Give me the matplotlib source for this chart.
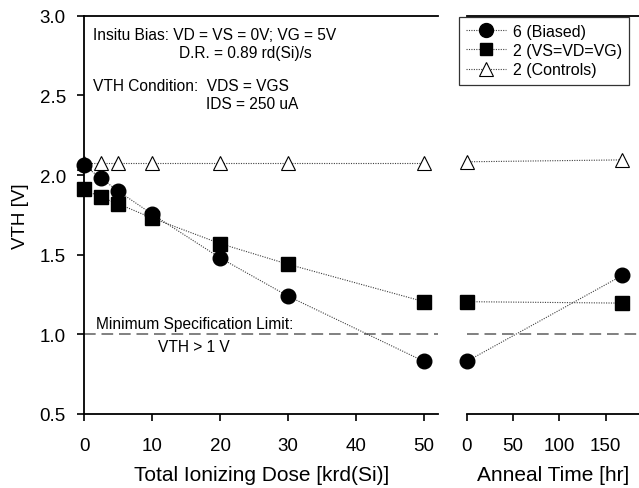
import matplotlib
matplotlib.use("Agg")
import matplotlib.pyplot as plt
from matplotlib.lines import Line2D

plt.rcParams['font.family'] = ['Liberation Sans', 'DejaVu Sans']

# Data: total ionizing dose panel
dose = [0, 2.5, 5, 10, 20, 30, 50]
biased_dose = [2.06, 1.98, 1.90, 1.755, 1.48, 1.24, 0.83]
vsvdvg_dose = [1.91, 1.86, 1.82, 1.73, 1.57, 1.44, 1.205]
controls_dose = [2.075, 2.075, 2.075, 2.075, 2.075, 2.075, 2.075]

# Data: anneal panel
anneal = [0, 168]
biased_anneal = [0.83, 1.37]
vsvdvg_anneal = [1.205, 1.196]
controls_anneal = [2.083, 2.095]

labels = ['6 (Biased)', '2 (VS=VD=VG)', '2 (Controls)']
spec_limit = 1.0

fig = plt.figure(figsize=(6.39, 4.89), dpi=100)
W, H = 639, 489
bottom = (H - 415) / H
height = (415 - 16.7) / H
ax1 = fig.add_axes([84 / W, bottom, (438.3 - 84) / W, height])
ax2 = fig.add_axes([466.7 / W, bottom, (639 - 466.7) / W, height])

line_kw = dict(color='#404040', linestyle=(0, (1, 1.2)), linewidth=0.8, clip_on=False)

def draw(ax, x, c, s, t):
    ax.plot(x, t, marker='^', markersize=10, markerfacecolor='white',
            markeredgecolor='black', markeredgewidth=0.8, zorder=3, **line_kw)
    ax.plot(x, s, marker='s', markersize=9.5, markerfacecolor='black',
            markeredgecolor='black', zorder=4, **line_kw)
    ax.plot(x, c, marker='o', markersize=10.5, markerfacecolor='black',
            markeredgecolor='black', zorder=5, **line_kw)
    ax.axhline(spec_limit, color='#808080', linestyle=(0, (6, 3)), linewidth=1.4, zorder=1)

draw(ax1, dose, biased_dose, vsvdvg_dose, controls_dose)
draw(ax2, anneal, biased_anneal, vsvdvg_anneal, controls_anneal)

for ax in (ax1, ax2):
    ax.set_ylim(0.5, 3.0)
    ax.spines['right'].set_visible(False)
    for sp in ('top', 'bottom', 'left'):
        ax.spines[sp].set_linewidth(1.3)
    ax.tick_params(direction='out', length=5, width=1.2, labelsize=13.5)
    ax.tick_params(axis='x', pad=11.5)
    ax.tick_params(axis='y', pad=8)

ax1.set_xlim(0, 52.1)
ax1.set_xticks([0, 10, 20, 30, 40, 50])
ax1.set_yticks([0.5, 1.0, 1.5, 2.0, 2.5, 3.0])
ax1.set_yticklabels(['0.5', '1.0', '1.5', '2.0', '2.5', '3.0'])
ax1.set_ylabel('VTH [V]', fontsize=13.5, labelpad=8)
ax1.set_xlabel('Total Ionizing Dose [krd(Si)]', fontsize=15, labelpad=8)

ax2.set_xlim(0, 186)
ax2.set_xticks([0, 50, 100, 150])
ax2.spines['left'].set_visible(False)
ax2.tick_params(axis='y', left=False, labelleft=False)
ax2.set_xlabel('Anneal Time [hr]', fontsize=15, labelpad=8)

# Annotations
tk = dict(fontsize=11.2, color='black')
ax1.text(1.25, 2.88, 'Insitu Bias: VD = VS = 0V; VG = 5V', ha='left', va='center', **tk)
ax1.text(33.5, 2.77, 'D.R. = 0.89 rd(Si)/s', ha='right', va='center', **tk)
ax1.text(1.25, 2.56, 'VTH Condition:  VDS = VGS', ha='left', va='center', **tk)
ax1.text(31.5, 2.45, 'IDS = 250 uA', ha='right', va='center', **tk)
ax1.text(16.3, 1.065, 'Minimum Specification Limit:', ha='center', va='center', **tk)
ax1.text(16.2, 0.925, 'VTH > 1 V', ha='center', va='center', **tk)

handles = [
    Line2D([], [], color='#404040', linestyle=(0, (1, 1.2)), linewidth=0.8,
           marker='o', markersize=10, markerfacecolor='black', markeredgecolor='black'),
    Line2D([], [], color='#404040', linestyle=(0, (1, 1.2)), linewidth=0.8,
           marker='s', markersize=9, markerfacecolor='black', markeredgecolor='black'),
    Line2D([], [], color='#404040', linestyle=(0, (1, 1.2)), linewidth=0.8,
           marker='^', markersize=9.5, markerfacecolor='white', markeredgecolor='black',
           markeredgewidth=0.8),
]
leg = fig.legend(handles, labels, loc='upper left',
                 bbox_to_anchor=(459 / W, 1 - 17.5 / H),
                 fontsize=11.5, frameon=True, fancybox=False, edgecolor='black',
                 borderpad=0.45, labelspacing=0.27, handlelength=2.5,
                 handletextpad=0.4, borderaxespad=0)
leg.get_frame().set_linewidth(0.9)
leg.set_zorder(10)

fig.savefig('out.png', dpi=100)
